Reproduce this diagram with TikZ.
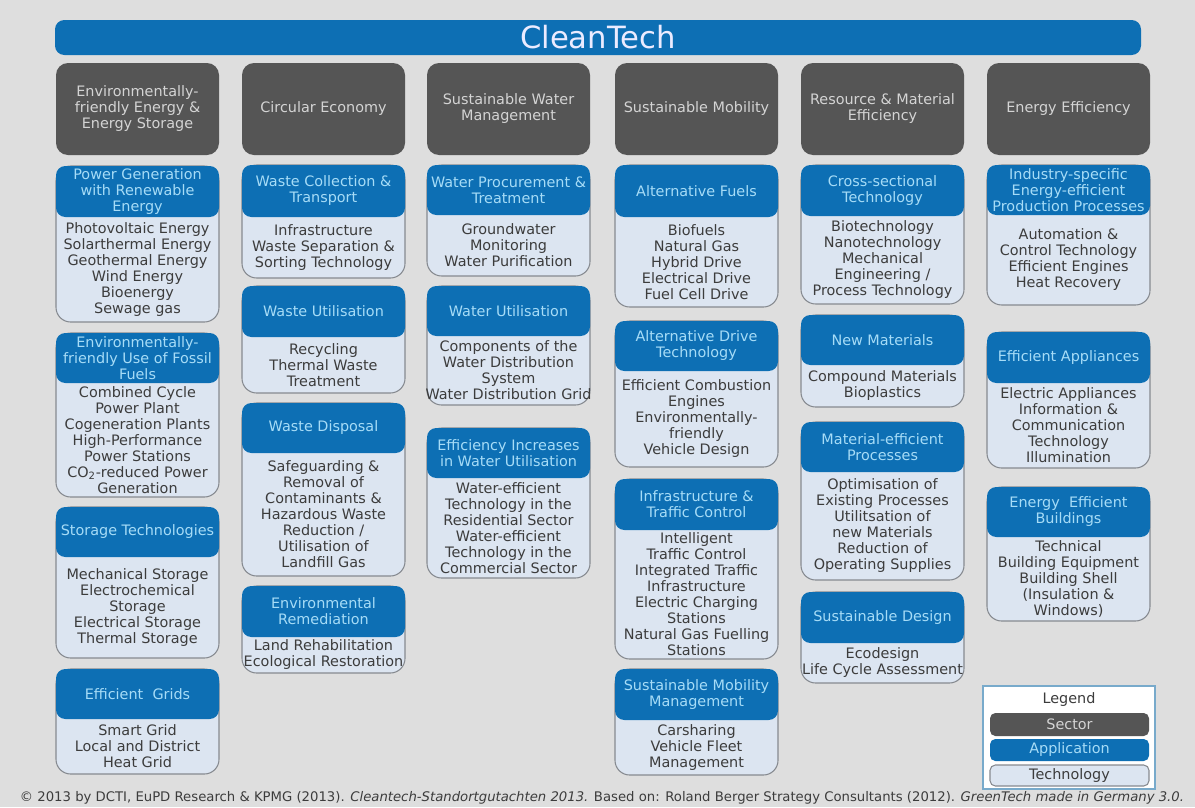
\documentclass[tikz,border=0pt]{standalone}
\usepackage{fontspec}
\usepackage{graphicx}
\setmainfont{DejaVu Sans}
\usetikzlibrary{calc}
\definecolor{bgc}{HTML}{DEDEDE}
\definecolor{blu}{HTML}{0D6FB4}
\definecolor{hdrtxt}{HTML}{A6DCF7}
\definecolor{techfill}{HTML}{DCE5F1}
\definecolor{techline}{HTML}{868A90}
\definecolor{techtxt}{HTML}{3C3C3C}
\definecolor{secfill}{HTML}{555555}
\definecolor{sectxt}{HTML}{D4D4D4}
\definecolor{legline}{HTML}{78AACB}
\tikzset{
 base/.style={inner sep=0pt, outer sep=0pt, align=center, font=\fontsize{10.8}{12}\selectfont},
 sectorbox/.style={base, fill=secfill, text=sectxt, rounded corners=9pt},
 techbox/.style={base, fill=techfill, draw=techline, text=techtxt, line width=0.8pt, rounded corners=11pt},
 appbox/.style={base, fill=blu, text=hdrtxt, rounded corners=7pt},
 techtext/.style={base, text=techtxt},
 colw/.style={minimum width=122.25pt},
}
\newcommand\sectornode[3]{%
 \node[sectorbox, colw, minimum height=69pt] (#1) at (#2+81.5,109) {#3};}
\newcommand\appnode[7]{%
 \node[techbox, colw, minimum height={(#5-#3)*0.75pt}] (#1) at (#2+81.5,{(#3+#5)/2}) {};
 \node[appbox, colw, minimum height={(#4-#3)*0.75pt}] (#1h) at (#2+81.5,{(#3+#4)/2}) {#6};
 \node[techtext] (#1t) at (#2+81.5,{(#4+#5)/2}) {#7};}
\begin{document}
\begin{tikzpicture}[x=0.75pt,y=-0.75pt]
\path[use as bounding box, fill=bgc] (0,0) rectangle (1195,807);
\node[base, fill=blu, rounded corners=7pt, text=white!92!blue, font=\fontsize{23}{26}\selectfont, minimum width={1086*0.75pt}, minimum height={35*0.75pt}] (title) at (598,37.5) {CleanTech};
% sectors
\sectornode{s1}{56}{Environmentally-\\friendly Energy \&\\Energy Storage}
\sectornode{s2}{242}{Circular Economy}
\sectornode{s3}{427}{Sustainable Water\\Management}
\sectornode{s4}{615}{Sustainable Mobility}
\sectornode{s5}{801}{Resource \& Material\\Efficiency}
\sectornode{s6}{987}{Energy Efficiency}
% column 1
\appnode{pg}{56}{166}{217}{322}{Power Generation\\with Renewable\\Energy}{Photovoltaic Energy\\Solarthermal Energy\\Geothermal Energy\\Wind Energy\\Bioenergy\\Sewage gas}
\appnode{ff}{56}{333}{383}{497}{Environmentally-\\friendly Use of Fossil\\Fuels}{Combined Cycle\\Power Plant\\Cogeneration Plants\\High-Performance\\Power Stations\\CO\textsubscript{2}-reduced Power\\Generation}
\appnode{st}{56}{507}{557}{658}{Storage Technologies}{Mechanical Storage\\Electrochemical\\Storage\\Electrical Storage\\Thermal Storage}
\appnode{eg}{56}{669}{719}{774}{Efficient\ \ Grids}{Smart Grid\\Local and District\\Heat Grid}
% column 2
\appnode{wc}{242}{165}{217}{278}{Waste Collection \&\\Transport}{Infrastructure\\Waste Separation \&\\Sorting Technology}
\appnode{wu}{242}{286}{337}{393}{Waste Utilisation}{Recycling\\Thermal Waste\\Treatment}
\appnode{wd}{242}{403}{453}{576}{Waste Disposal}{Safeguarding \&\\Removal of\\Contaminants \&\\Hazardous Waste\\Reduction /\\Utilisation of\\Landfill Gas}
\appnode{er}{242}{586}{637}{673}{Environmental\\Remediation}{Land Rehabilitation\\Ecological Restoration}
% column 3
\appnode{wp}{427}{165}{215}{276}{Water Procurement \&\\Treatment}{Groundwater\\Monitoring\\Water Purification}
\appnode{wt}{427}{286}{336}{405}{Water Utilisation}{Components of the\\Water Distribution\\System\\Water Distribution Grid}
\appnode{ei}{427}{428}{478}{578}{Efficiency Increases\\in Water Utilisation}{Water-efficient\\Technology in the\\Residential Sector\\Water-efficient\\Technology in the\\Commercial Sector}
% column 4
\appnode{af}{615}{165}{217}{307}{Alternative Fuels}{Biofuels\\Natural Gas\\Hybrid Drive\\Electrical Drive\\Fuel Cell Drive}
\appnode{ad}{615}{321}{371}{467}{Alternative Drive\\Technology}{Efficient Combustion\\Engines\\Environmentally-\\friendly\\Vehicle Design}
\appnode{it}{615}{479}{530}{659}{Infrastructure \&\\Traffic Control}{Intelligent\\Traffic Control\\Integrated Traffic\\Infrastructure\\Electric Charging\\Stations\\Natural Gas Fuelling\\Stations}
\appnode{sm}{615}{669}{720}{775}{Sustainable Mobility\\Management}{Carsharing\\Vehicle Fleet\\Management}
% column 5
\appnode{cs}{801}{165}{216}{304}{Cross-sectional\\Technology}{Biotechnology\\Nanotechnology\\Mechanical\\Engineering /\\Process Technology}
\appnode{nm}{801}{315}{365}{407}{New Materials}{Compound Materials\\Bioplastics}
\appnode{me}{801}{422}{472}{580}{Material-efficient\\Processes}{Optimisation of\\Existing Processes\\Utilitsation of\\new Materials\\Reduction of\\Operating Supplies}
\appnode{sd}{801}{592}{643}{683}{Sustainable Design}{Ecodesign\\Life Cycle Assessment}
% column 6
\appnode{ip}{987}{165}{215}{305}{Industry-specific\\Energy-efficient\\Production Processes}{Automation \&\\Control Technology\\Efficient Engines\\Heat Recovery}
\appnode{ea}{987}{332}{383}{468}{Efficient Appliances}{Electric Appliances\\Information \&\\Communication\\Technology\\Illumination}
\appnode{eb}{987}{487}{537}{621}{Energy\ \ Efficient\\Buildings}{Technical\\Building Equipment\\Building Shell\\(Insulation \&\\Windows)}
% legend
\node[base, fill=white, draw=legline, line width=1pt, minimum width={172*0.75pt}, minimum height={103*0.75pt}] (legend) at (1069,737.5) {};
\node[base, text=techtxt] (legendt) at (1069,700) {Legend};
\node[sectorbox, rounded corners=4pt, minimum width={159*0.75pt}, minimum height={23*0.75pt}] (legsec) at (1069.5,724.5) {Sector};
\node[appbox, rounded corners=4pt, minimum width={159*0.75pt}, minimum height={22*0.75pt}] (legapp) at (1069.5,750) {Application};
\node[techbox, rounded corners=4pt, minimum width={159*0.75pt}, minimum height={21*0.75pt}] (legtech) at (1069.5,775.5) {Technology};
% footer
\node[inner sep=0pt, text=techtxt] (footer) at (602,798) {\resizebox{873pt}{!}{\fontsize{9}{10}\selectfont © 2013 by DCTI, EuPD Research \& KPMG (2013). \textit{Cleantech-Standortgutachten 2013.} Based on: Roland Berger Strategy Consultants (2012). \textit{GreenTech made in Germany 3.0.}}};
\end{tikzpicture}
\end{document}
